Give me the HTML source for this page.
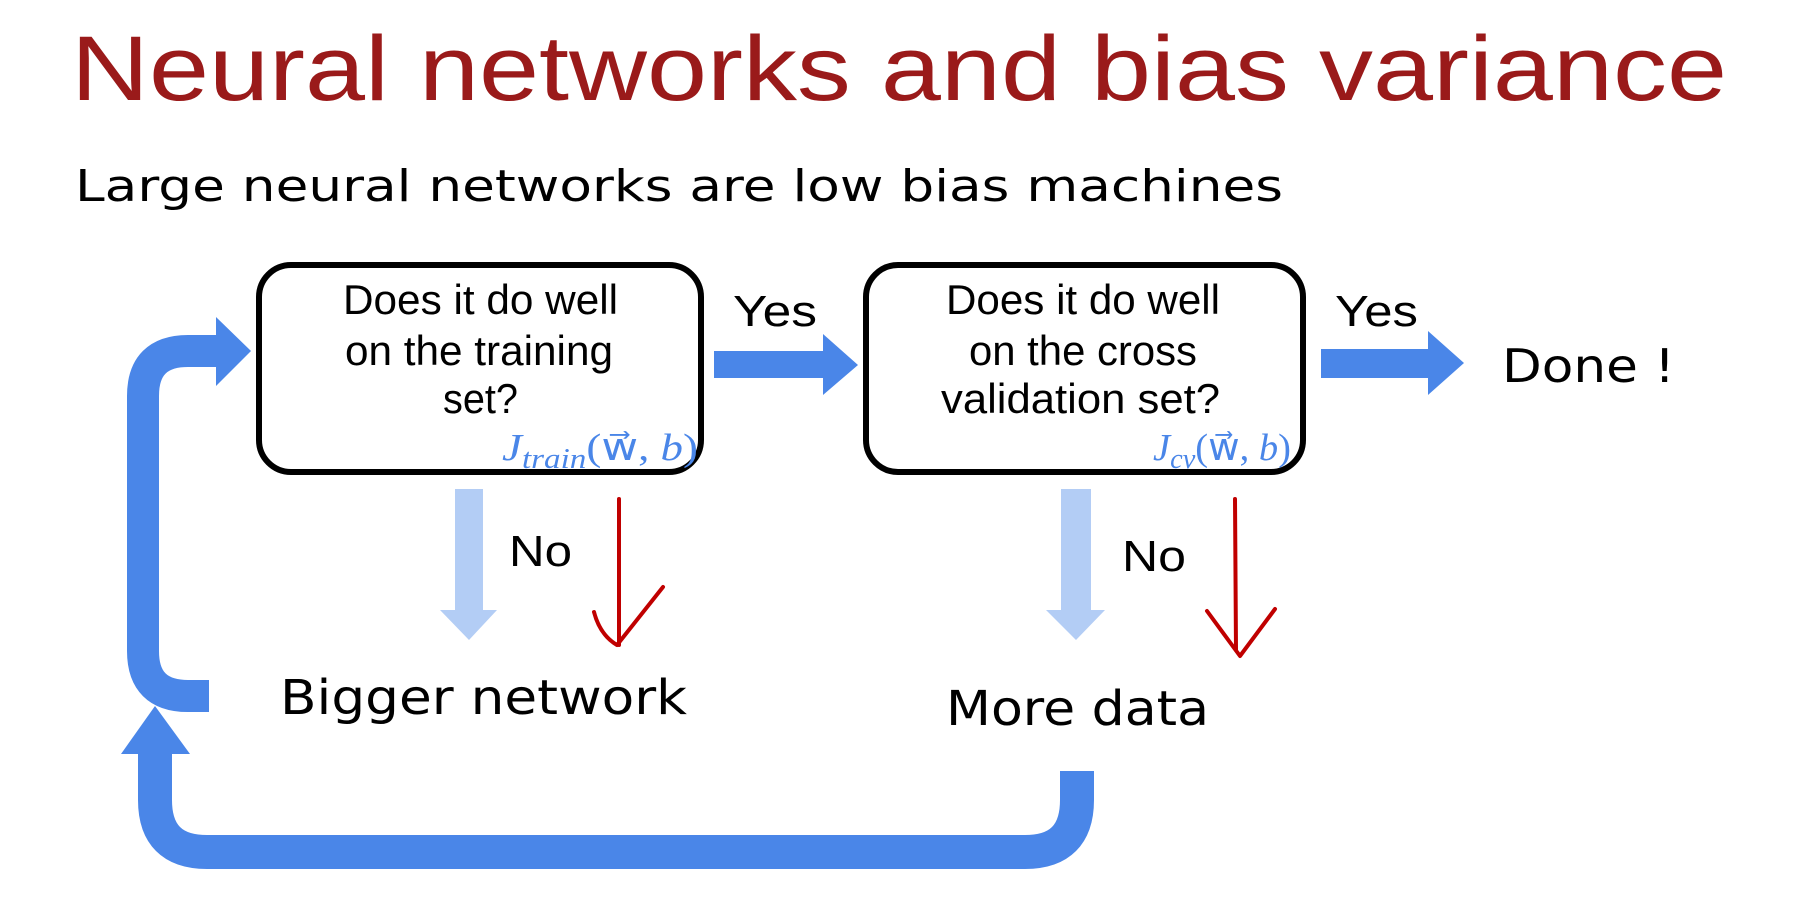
<!DOCTYPE html>
<html><head><meta charset="utf-8"><style>
html,body{margin:0;padding:0;background:#fff;}
svg{display:block;}
</style></head><body>
<svg width="1805" height="903" viewBox="0 0 1805 903" xmlns="http://www.w3.org/2000/svg">
<rect width="1805" height="903" fill="#fff"/>
<text x="71" y="100" font-family="Liberation Sans, sans-serif" font-size="92" fill="#9a1a1a" textLength="1656" lengthAdjust="spacingAndGlyphs">Neural networks and bias variance</text>
<text x="75" y="201" font-family="DejaVu Sans, sans-serif" font-size="44" fill="#000" textLength="1208" lengthAdjust="spacingAndGlyphs">Large neural networks are low bias machines</text>

<rect x="259" y="265" width="442" height="207" rx="32" fill="#fff" stroke="#000" stroke-width="6"/>
<rect x="866" y="265" width="437" height="207" rx="32" fill="#fff" stroke="#000" stroke-width="6"/>

<g font-family="Liberation Sans, sans-serif" font-size="42" fill="#000">
<text x="343" y="314" textLength="275" lengthAdjust="spacingAndGlyphs">Does it do well</text>
<text x="345" y="365" textLength="268" lengthAdjust="spacingAndGlyphs">on the training</text>
<text x="443" y="413" textLength="75" lengthAdjust="spacingAndGlyphs">set?</text>
<text x="946" y="314" textLength="274" lengthAdjust="spacingAndGlyphs">Does it do well</text>
<text x="969" y="365" textLength="228" lengthAdjust="spacingAndGlyphs">on the cross</text>
<text x="941" y="413" textLength="279" lengthAdjust="spacingAndGlyphs">validation set?</text>
<text x="733" y="326" font-size="44" textLength="84" lengthAdjust="spacingAndGlyphs">Yes</text>
<text x="1335" y="326" font-size="44" textLength="83" lengthAdjust="spacingAndGlyphs">Yes</text>
<text x="509" y="566" font-size="44" textLength="63" lengthAdjust="spacingAndGlyphs">No</text>
<text x="1122" y="571" font-size="44" textLength="64" lengthAdjust="spacingAndGlyphs">No</text>
</g>
<g font-family="DejaVu Sans, sans-serif" fill="#000">
<text x="1502" y="382" font-size="46" textLength="173" lengthAdjust="spacingAndGlyphs">Done !</text>
<text x="280" y="714" font-size="48" textLength="407" lengthAdjust="spacingAndGlyphs">Bigger network</text>
<text x="946" y="725" font-size="48" textLength="263" lengthAdjust="spacingAndGlyphs">More data</text>
</g>
<g font-family="Liberation Serif, serif" fill="#4a86e8" font-size="38">
<text x="502" y="460" font-style="italic" textLength="196" lengthAdjust="spacingAndGlyphs">J<tspan font-size="28" dy="8">train</tspan><tspan font-style="normal" dy="-8">(w⃗, </tspan><tspan>b</tspan><tspan font-style="normal">)</tspan></text>
<text x="1153" y="460" font-style="italic" textLength="138" lengthAdjust="spacingAndGlyphs">J<tspan font-size="28" dy="8">cv</tspan><tspan font-style="normal" dy="-8">(w⃗, </tspan><tspan>b</tspan><tspan font-style="normal">)</tspan></text>
</g>

<polygon points="714,351 823,351 823,334 858,365 823,395 823,378 714,378" fill="#4a86e8"/>
<polygon points="1321,349 1428,349 1428,331 1464,363 1428,395 1428,378 1321,378" fill="#4a86e8"/>

<polygon points="455,489 483,489 483,610 497,610 469,640 440,610 455,610" fill="#b3cdf5"/>
<polygon points="1061,489 1091,489 1091,610 1105,610 1076,640 1046,610 1061,610" fill="#b3cdf5"/>

<g stroke="#c00000" stroke-width="4" fill="none" stroke-linecap="round" stroke-linejoin="round">
<path d="M619,499 L619,645"/>
<path d="M594,612 Q600,635 617,645 L663,587"/>
<path d="M1235,499 L1236,650"/>
<path d="M1207,611 L1240,656 L1275,609"/>
</g>

<path d="M209,696 L188,696 Q143,696 143,651 L143,396 Q143,351 188,351 L218,351" stroke="#4a86e8" stroke-width="32" fill="none"/>
<polygon points="216,317 251,351 216,386" fill="#4a86e8"/>

<path d="M1077,771 L1077,800 Q1077,852 1025,852 L207,852 Q155,852 155,800 L155,752" stroke="#4a86e8" stroke-width="34" fill="none"/>
<polygon points="121,754 190,754 155,706" fill="#4a86e8"/>
</svg>
</body></html>
